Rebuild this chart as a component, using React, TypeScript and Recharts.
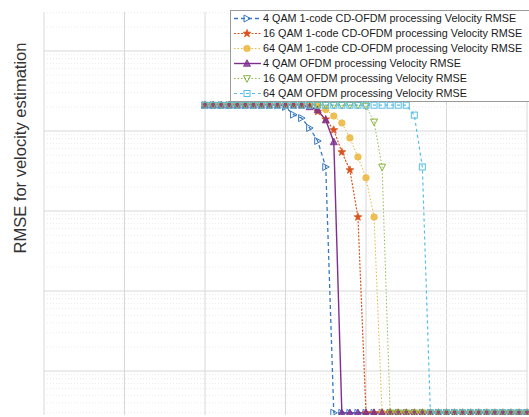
import React from 'react';
import { LineChart, Line, XAxis, YAxis, CartesianGrid, ReferenceLine } from 'recharts';

// SNR steps (dB) shared by every curve
const snr = [0, 1, 2, 3, 4, 5, 6, 7, 8, 9, 10, 11, 12, 13, 14, 15, 16, 17, 18, 19, 20, 21, 22, 23, 24, 25, 26, 27, 28, 29, 30, 31, 32, 33, 34, 35, 36, 37, 38, 39, 40];

const cd4 = [0.21, 0.21, 0.21, 0.21, 0.21, 0.21, 0.21, 0.21, 0.21, 0.21, 0.2, 0.16, 0.145, 0.109, 0.075, 0.0355, 3e-5, 3e-5, 3e-5, 3e-5, 3e-5, 3e-5, 3e-5, 3e-5, 3e-5, 3e-5, 3e-5, 3e-5, 3e-5, 3e-5, 3e-5, 3e-5, 3e-5, 3e-5, 3e-5, 3e-5, 3e-5, 3e-5, 3e-5, 3e-5, 3e-5];
const cd16 = [0.21, 0.21, 0.21, 0.21, 0.21, 0.21, 0.21, 0.21, 0.21, 0.21, 0.21, 0.21, 0.21, 0.21, 0.175, 0.14, 0.103, 0.0545, 0.0325, 0.0084, 3e-5, 3e-5, 3e-5, 3e-5, 3e-5, 3e-5, 3e-5, 3e-5, 3e-5, 3e-5, 3e-5, 3e-5, 3e-5, 3e-5, 3e-5, 3e-5, 3e-5, 3e-5, 3e-5, 3e-5, 3e-5];
const cd64 = [0.21, 0.21, 0.21, 0.21, 0.21, 0.21, 0.21, 0.21, 0.21, 0.21, 0.21, 0.21, 0.21, 0.21, 0.21, 0.185, 0.154, 0.126, 0.082, 0.0474, 0.026, 0.0084, 3e-5, 3e-5, 3e-5, 3e-5, 3e-5, 3e-5, 3e-5, 3e-5, 3e-5, 3e-5, 3e-5, 3e-5, 3e-5, 3e-5, 3e-5, 3e-5, 3e-5, 3e-5, 3e-5];
const ofdm4 = [0.21, 0.21, 0.21, 0.21, 0.21, 0.21, 0.21, 0.21, 0.21, 0.21, 0.21, 0.21, 0.21, 0.2, 0.183, 0.137, 0.073, 3e-5, 3e-5, 3e-5, 3e-5, 3e-5, 3e-5, 3e-5, 3e-5, 3e-5, 3e-5, 3e-5, 3e-5, 3e-5, 3e-5, 3e-5, 3e-5, 3e-5, 3e-5, 3e-5, 3e-5, 3e-5, 3e-5, 3e-5, 3e-5];
const ofdm16 = [0.21, 0.21, 0.21, 0.21, 0.21, 0.21, 0.21, 0.21, 0.21, 0.21, 0.21, 0.21, 0.21, 0.21, 0.21, 0.21, 0.21, 0.21, 0.21, 0.21, 0.205, 0.13, 0.0355, 3e-5, 3e-5, 3e-5, 3e-5, 3e-5, 3e-5, 3e-5, 3e-5, 3e-5, 3e-5, 3e-5, 3e-5, 3e-5, 3e-5, 3e-5, 3e-5, 3e-5, 3e-5];
const ofdm64 = [0.21, 0.21, 0.21, 0.21, 0.21, 0.21, 0.21, 0.21, 0.21, 0.21, 0.21, 0.21, 0.21, 0.21, 0.21, 0.21, 0.21, 0.21, 0.21, 0.21, 0.21, 0.21, 0.21, 0.21, 0.21, 0.21, 0.158, 0.0355, 3e-5, 3e-5, 3e-5, 3e-5, 3e-5, 3e-5, 3e-5, 3e-5, 3e-5, 3e-5, 3e-5, 3e-5, 3e-5];

const seriesNames = [
  '4 QAM 1-code CD-OFDM processing Velocity RMSE',
  '16 QAM 1-code CD-OFDM processing Velocity RMSE',
  '64 QAM 1-code CD-OFDM processing Velocity RMSE',
  '4 QAM OFDM processing Velocity RMSE',
  '16 QAM OFDM processing Velocity RMSE',
  '64 QAM OFDM processing Velocity RMSE',
];

const xTicks = [-20, -10, 0, 10, 20, 30, 40];
const yMajor = [1e-4, 1e-3, 1e-2, 1e-1, 1];
const minorSteps = [2, 3, 4, 5, 6, 7, 8, 9];
const yDomain = [2.82e-5, 3.07];

const yMinor = [1e-5, ...yMajor]
  .flatMap((d) => minorSteps.map((m) => +(d * m).toPrecision(3)))
  .filter((v) => v > yDomain[0] && v < yDomain[1]);

const data = snr.map((x, i) => ({
  x,
  cd4: cd4[i],
  cd16: cd16[i],
  cd64: cd64[i],
  ofdm4: ofdm4[i],
  ofdm16: ofdm16[i],
  ofdm64: ofdm64[i],
}));

type MarkerKind = 'triRight' | 'star' | 'circle' | 'triUp' | 'triDown' | 'square';

const series: { key: string; color: string; dash?: string; width: number; marker: MarkerKind }[] = [
  { key: 'cd4', color: '#3579c4', dash: '4 3', width: 1.3, marker: 'triRight' },
  { key: 'cd16', color: '#d9541e', dash: '2 1.5', width: 1.2, marker: 'star' },
  { key: 'cd64', color: '#ebb53a', dash: '1.5 2', width: 1, marker: 'circle' },
  { key: 'ofdm4', color: '#7e2f8e', width: 1.4, marker: 'triUp' },
  { key: 'ofdm16', color: '#86b33a', dash: '1.5 2', width: 0.9, marker: 'triDown' },
  { key: 'ofdm64', color: '#55bde8', dash: '3 3', width: 1.2, marker: 'square' },
];

const FONT = '"Liberation Sans", Arial, Helvetica, sans-serif';
const AXIS = '#777';

function Marker({ kind, cx, cy, color }: { kind: MarkerKind; cx: number; cy: number; color: string }) {
  switch (kind) {
    case 'triRight':
      return <polygon points={`${cx - 3},${cy - 3.5} ${cx + 3.5},${cy} ${cx - 3},${cy + 3.5}`} fill="none" stroke={color} strokeWidth={1} />;
    case 'star': {
      const pts: string[] = [];
      for (let k = 0; k < 10; k++) {
        const r = k % 2 === 0 ? 4.2 : 1.8;
        const a = -Math.PI / 2 + (k * Math.PI) / 5;
        pts.push(`${cx + r * Math.cos(a)},${cy + r * Math.sin(a)}`);
      }
      return <polygon points={pts.join(' ')} fill={color} stroke={color} strokeWidth={0.6} />;
    }
    case 'circle':
      return <circle cx={cx} cy={cy} r={3.3} fill={color} fillOpacity={0.85} stroke={color} strokeWidth={0.6} />;
    case 'triUp':
      return <polygon points={`${cx},${cy - 3.8} ${cx + 3.5},${cy + 2.8} ${cx - 3.5},${cy + 2.8}`} fill={color} fillOpacity={0.8} stroke={color} strokeWidth={0.8} />;
    case 'triDown':
      return <polygon points={`${cx - 3.5},${cy - 2.8} ${cx + 3.5},${cy - 2.8} ${cx},${cy + 3.8}`} fill="none" stroke={color} strokeWidth={1} />;
    case 'square':
      return <rect x={cx - 3} y={cy - 3} width={6} height={6} fill="none" stroke={color} strokeWidth={1} />;
  }
  return null;
}

const yTick = (side: 'left' | 'right') => (props: any) => {
  const { x, y, payload } = props;
  const len = yMajor.includes(payload.value) ? 5 : 3;
  const dx = side === 'left' ? len : -len;
  return <line x1={x} y1={y} x2={x + dx} y2={y} stroke={AXIS} strokeWidth={1} />;
};

const xTick = (side: 'top' | 'bottom') => (props: any) => {
  const { x, y } = props;
  const dy = side === 'bottom' ? -5 : 5;
  return <line x1={x} y1={y} x2={x} y2={y + dy} stroke={AXIS} strokeWidth={1} />;
};

function LegendBox() {
  return (
    <div
      style={{
        position: 'absolute',
        left: 230,
        top: 10,
        width: 310,
        height: 90,
        background: '#fff',
        border: '1px solid #999',
        fontFamily: FONT,
        fontSize: 10.8,
        color: '#1a1a1a',
      }}
    >
      {series.map((s, i) => (
        <div key={s.key} style={{ height: 15, lineHeight: '15px', display: 'flex', alignItems: 'center', whiteSpace: 'nowrap' }}>
          <svg width={32} height={15} style={{ flex: 'none' }}>
            <line x1={3} y1={7.5} x2={30} y2={7.5} stroke={s.color} strokeWidth={s.width} strokeDasharray={s.dash} />
            <Marker kind={s.marker} cx={16} cy={7.5} color={s.color} />
          </svg>
          <span>{seriesNames[i]}</span>
        </div>
      ))}
    </div>
  );
}

export default function App() {
  return (
    <div style={{ position: 'absolute', left: 0, top: 0, width: 529, height: 417, overflow: 'hidden', background: '#fff' }}>
      <LineChart width={529} height={417} data={data} margin={{ top: 12, right: 2, bottom: 2, left: 44 }}>
        <CartesianGrid stroke="#d8d8d8" horizontalValues={yMajor} verticalValues={xTicks} />
        {yMinor.map((v) => (
          <ReferenceLine key={`m${v}`} y={v} stroke="#e9e9e9" strokeDasharray="1 2" />
        ))}
        <XAxis
          dataKey="x"
          type="number"
          domain={[-20, 40]}
          ticks={xTicks}
          interval={0}
          height={0}
          tickSize={0}
          tickMargin={0}
          tickLine={false}
          tick={xTick('bottom')}
          axisLine={{ stroke: AXIS }}
        />
        <XAxis
          xAxisId="top"
          orientation="top"
          dataKey="x"
          type="number"
          domain={[-20, 40]}
          ticks={xTicks}
          interval={0}
          height={0}
          tickSize={0}
          tickMargin={0}
          tickLine={false}
          tick={xTick('top')}
          axisLine={{ stroke: AXIS }}
        />
        <YAxis
          scale="log"
          type="number"
          domain={yDomain}
          allowDataOverflow
          ticks={[...yMinor, ...yMajor]}
          interval={0}
          width={0}
          tickSize={0}
          tickMargin={0}
          tickLine={false}
          tick={yTick('left')}
          axisLine={{ stroke: AXIS }}
        />
        <YAxis
          yAxisId="right"
          orientation="right"
          scale="log"
          type="number"
          domain={yDomain}
          allowDataOverflow
          ticks={[...yMinor, ...yMajor]}
          interval={0}
          width={0}
          tickSize={0}
          tickMargin={0}
          tickLine={false}
          tick={yTick('right')}
          axisLine={{ stroke: AXIS }}
        />
        {series.map((s) => (
          <Line
            key={s.key}
            dataKey={s.key}
            type="linear"
            stroke={s.color}
            strokeWidth={s.width}
            strokeDasharray={s.dash}
            isAnimationActive={false}
            dot={(p: any) => <Marker key={`${s.key}-${p.index}`} kind={s.marker} cx={p.cx} cy={p.cy} color={s.color} />}
            activeDot={false}
          />
        ))}
      </LineChart>
      <LegendBox />
      <div
        style={{
          position: 'absolute',
          left: 20,
          top: 148,
          transform: 'translate(-50%, -50%) rotate(-90deg)',
          whiteSpace: 'nowrap',
          fontFamily: FONT,
          fontSize: 16.5,
          color: '#333',
        }}
      >
        RMSE for velocity estimation
      </div>
    </div>
  );
}
